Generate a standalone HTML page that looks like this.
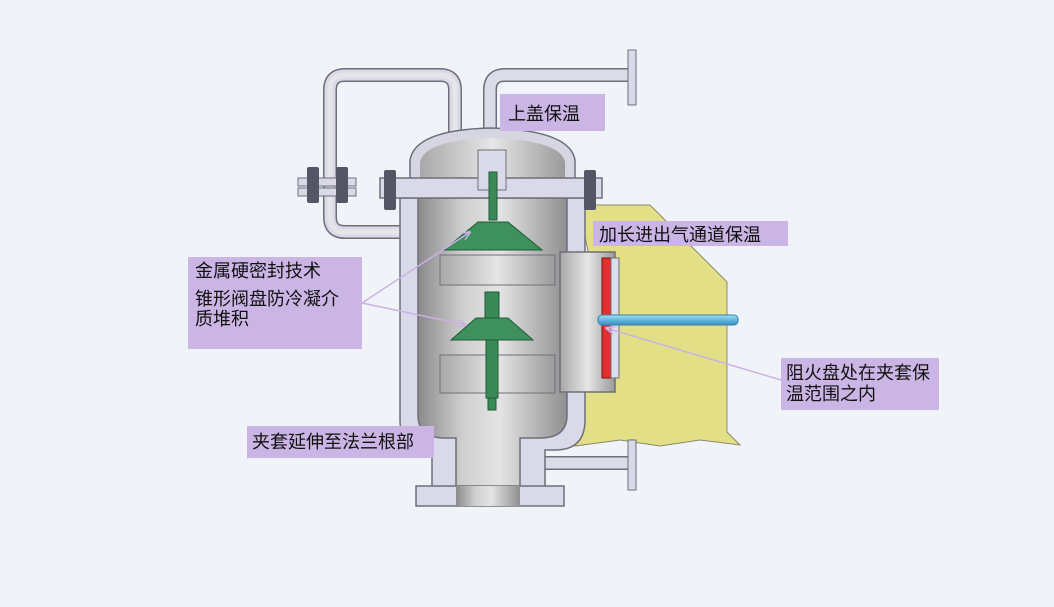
<!DOCTYPE html>
<html><head><meta charset="utf-8"><style>
html,body{margin:0;padding:0;background:#f0f4f9;}
svg{display:block}
text{font-family:"Liberation Sans","Noto Sans CJK SC",sans-serif;font-size:18px;fill:#111}
</style></head><body>
<svg width="1054" height="607" viewBox="0 0 1054 607" xmlns="http://www.w3.org/2000/svg">
<defs>
<linearGradient id="g" x1="0" x2="1"><stop offset="0" stop-color="#8a8a8a"/><stop offset="0.3" stop-color="#cfcfcf"/><stop offset="0.55" stop-color="#e4e4e4"/><stop offset="1" stop-color="#8f8f8f"/></linearGradient>
<linearGradient id="gp" x1="0" x2="1"><stop offset="0" stop-color="#a8a8a8"/><stop offset="0.5" stop-color="#e6e6e6"/><stop offset="1" stop-color="#9a9a9a"/></linearGradient>
<linearGradient id="bl" x1="0" y1="0" x2="0" y2="1"><stop offset="0" stop-color="#a8e0f5"/><stop offset="0.5" stop-color="#5fb8e0"/><stop offset="1" stop-color="#3a8fc0"/></linearGradient>
<marker id="ah" markerWidth="10" markerHeight="8" refX="9" refY="4" orient="auto" markerUnits="userSpaceOnUse"><path d="M0,0 L10,4 L0,8" fill="none" stroke="#c9b1e6" stroke-width="1.5"/></marker>
</defs>
<rect width="1054" height="607" fill="#f0f4f9"/>
<polygon points="578,205 650,205 727,282 727,432 740,445 700,440 660,446 620,440 575,446 585,380 590,260" fill="#e3df86" stroke="#8a8a6a" stroke-width="1"/>
<path d="M405,232 L345,232 Q330,232 330,217 L330,90 Q330,75 345,75 L440,75 Q455,75 455,90 L455,175" fill="none" stroke="#6f6f7a" stroke-width="14"/>
<path d="M405,232 L345,232 Q330,232 330,217 L330,90 Q330,75 345,75 L440,75 Q455,75 455,90 L455,175" fill="none" stroke="#d9d9e8" stroke-width="11"/>
<path d="M405,232 L345,232 Q330,232 330,217 L330,90 Q330,75 345,75 L440,75 Q455,75 455,90 L455,175" fill="none" stroke="#e6e6ea" stroke-width="5"/>
<rect x="298" y="178" width="58" height="8" fill="#d9d9e8" stroke="#6f6f7a"/>
<rect x="298" y="188" width="58" height="8" fill="#d9d9e8" stroke="#6f6f7a"/>
<rect x="307" y="167" width="12" height="36" fill="#556" rx="2"/><rect x="336" y="167" width="12" height="36" fill="#556" rx="2"/>
<path d="M490,135 L490,90 Q490,75 505,75 L630,75" fill="none" stroke="#6f6f7a" stroke-width="14"/>
<path d="M490,135 L490,90 Q490,75 505,75 L630,75" fill="none" stroke="#dcdce8" stroke-width="11"/>
<rect x="628" y="50" width="8" height="55" fill="#d9d9e8" stroke="#6f6f7a"/>
<path d="M540,463 L630,463" stroke="#6f6f7a" stroke-width="14"/>
<path d="M540,463 L630,463" stroke="#dcdce8" stroke-width="11"/>
<rect x="628" y="440" width="8" height="50" fill="#d9d9e8" stroke="#6f6f7a"/>
<path d="M410,180 L410,160 Q415,130 490,128 Q570,130 575,160 L575,180 Z" fill="#d6d6e2" stroke="#6f6f7a" stroke-width="1.5"/>
<path d="M420,180 L420,162 Q425,140 490,138 Q560,140 565,162 L565,180 Z" fill="url(#gp)"/>
<path d="M400,198 L585,198 L585,420 Q585,450 555,450 L545,450 L545,488 L432,488 L432,450 Q400,450 400,420 Z" fill="#d9d9ea" stroke="#6f6f7a" stroke-width="1.5"/>
<path d="M418,198 L567,198 L567,415 Q567,438 540,438 L520,438 L520,505 L456,505 L456,438 L445,438 Q418,438 418,415 Z" fill="url(#g)" stroke="#6f6f7a" stroke-width="1.5"/>
<rect x="380" y="178" width="222" height="20" fill="#d9d9ea" stroke="#6f6f7a" stroke-width="1.5"/>
<rect x="384" y="170" width="12" height="40" fill="#556" rx="2"/><rect x="584" y="170" width="12" height="40" fill="#556" rx="2"/>
<rect x="478" y="150" width="28" height="40" fill="#d9d9ea" stroke="#6f6f7a"/>
<rect x="416" y="486" width="148" height="20" fill="#d9d9ea" stroke="#6f6f7a" stroke-width="1.5"/>
<rect x="456" y="486" width="64" height="20" fill="url(#g)"/>
<rect x="440" y="255" width="115" height="30" fill="url(#gp)" stroke="#6f6f7a"/>
<rect x="440" y="355" width="115" height="38" fill="url(#gp)" stroke="#6f6f7a"/>
<rect x="560" y="252" width="55" height="140" fill="url(#gp)" stroke="#6f6f7a" stroke-width="1.5"/>
<rect x="602" y="258" width="9" height="120" fill="#e03030" stroke="#7a1010"/>
<rect x="611" y="258" width="8" height="120" fill="#dcdcea" stroke="#6f6f7a"/>
<rect x="598" y="315" width="140" height="10" rx="4" fill="url(#bl)" stroke="#3a7fa8"/>
<rect x="489" y="172" width="8" height="48" fill="#3a8a58" stroke="#1f5a36"/>
<path d="M478,222 L508,222 L542,250 L444,250 Z" fill="#3e915c" stroke="#1f5a36"/>
<rect x="485" y="292" width="14" height="30" fill="#3a8a58" stroke="#1f5a36"/>
<path d="M476,318 L508,318 L533,340 L451,340 Z" fill="#3e915c" stroke="#1f5a36"/>
<rect x="486" y="340" width="12" height="58" fill="#3a8a58" stroke="#1f5a36"/>
<rect x="488" y="398" width="8" height="12" fill="#3a8a58" stroke="#1f5a36"/>
<rect x="500" y="94" width="105" height="37" fill="#cbb5e4"/>
<text x="508" y="120">上盖保温</text>
<rect x="593" y="221" width="195" height="25" fill="#cbb5e4"/>
<text x="599" y="241">加长进出气通道保温</text>
<rect x="188" y="257" width="174" height="92" fill="#cbb5e4"/>
<text x="195" y="277">金属硬密封技术</text>
<text x="195" y="305">锥形阀盘防冷凝介</text>
<text x="195" y="325">质堆积</text>
<rect x="247" y="426" width="187" height="32" fill="#cbb5e4"/>
<text x="252" y="448">夹套延伸至法兰根部</text>
<rect x="781" y="358" width="158" height="52" fill="#cbb5e4"/>
<text x="786" y="379">阻火盘处在夹套保</text>
<text x="786" y="400">温范围之内</text>
<line x1="362" y1="303" x2="470" y2="232" stroke="#c9b1e6" stroke-width="1.5" marker-end="url(#ah)"/>
<line x1="362" y1="303" x2="466" y2="325" stroke="#c9b1e6" stroke-width="1.5" marker-end="url(#ah)"/>
<line x1="781" y1="380" x2="606" y2="328" stroke="#c9b1e6" stroke-width="1.5" marker-end="url(#ah)"/>
</svg>
</body></html>
